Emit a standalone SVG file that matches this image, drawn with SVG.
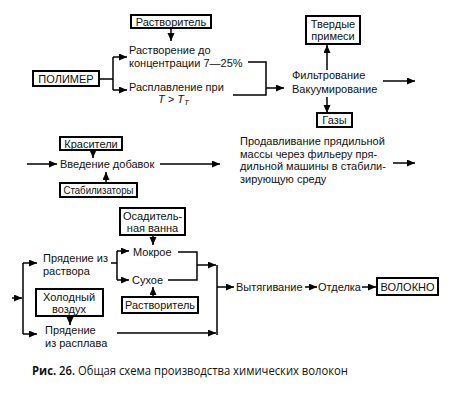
<svg xmlns="http://www.w3.org/2000/svg" width="457" height="401" viewBox="0 0 457 401">
<defs>
<marker id="ah" markerUnits="userSpaceOnUse" markerWidth="9" markerHeight="8" refX="8" refY="3.5" orient="auto">
<path d="M0,0 L8,3.5 L0,7 z" fill="#000"/>
</marker>
<style>
.t{font-family:"Liberation Sans",Arial,sans-serif;font-size:11px;fill:#111}
.c{text-anchor:middle}
.b{fill:none;stroke:#000;stroke-width:2}
.l{fill:none;stroke:#000;stroke-width:1.5}
.a{fill:none;stroke:#000;stroke-width:1.5;marker-end:url(#ah)}
.cap{font-family:"Open Sans","Noto Sans",sans-serif;font-size:12px;fill:#111}
</style>
</defs>
<rect width="457" height="401" fill="#fff"/>

<g id="connectors">
<line class="a" x1="171" y1="28" x2="171" y2="41"/>
<path class="l" d="M99,79 H113 M113,57 V90"/>
<line class="a" x1="113" y1="57" x2="127" y2="57"/>
<line class="a" x1="113" y1="90" x2="127" y2="90"/>
<path class="l" d="M248,62 H266 V95 H233"/>
<line class="a" x1="266" y1="88" x2="284" y2="88"/>
<line class="a" x1="327" y1="70" x2="327" y2="45"/>
<line class="a" x1="327" y1="97" x2="327" y2="113"/>
<line class="a" x1="383" y1="81" x2="415" y2="81"/>

<line class="a" x1="93" y1="150" x2="93" y2="158"/>
<line class="a" x1="27" y1="164" x2="57" y2="164"/>
<line class="a" x1="160" y1="164" x2="220" y2="164"/>
<line class="a" x1="106" y1="183" x2="106" y2="172"/>
<line class="a" x1="393" y1="163" x2="415" y2="163"/>

<line class="a" x1="153" y1="235" x2="153" y2="245"/>
<path class="l" d="M111,263 H117 M117,251 V280"/>
<line class="a" x1="117" y1="251" x2="129" y2="251"/>
<line class="a" x1="117" y1="280" x2="129" y2="280"/>
<path class="l" d="M178,252 H197 V280 H168"/>
<line class="a" x1="197" y1="265" x2="216" y2="265"/>
<line class="l" x1="217" y1="265" x2="217" y2="335"/>
<line class="a" x1="117" y1="333" x2="216" y2="333"/>
<line class="a" x1="217" y1="287" x2="234" y2="287"/>
<line class="a" x1="153" y1="297" x2="153" y2="287"/>
<line class="a" x1="12" y1="298" x2="22" y2="298"/>
<line class="l" x1="23" y1="263" x2="23" y2="334"/>
<line class="a" x1="23" y1="263" x2="37" y2="263"/>
<line class="a" x1="23" y1="334" x2="37" y2="334"/>
<line class="a" x1="70" y1="316" x2="70" y2="325"/>
<line class="a" x1="305" y1="287" x2="317" y2="287"/>
<line class="a" x1="362" y1="287" x2="376" y2="287"/>
</g>

<g id="solvent-top"><rect class="b" x="131" y="15" width="80" height="13"/><text class="t c" x="171" y="25.5">Растворитель</text></g>
<g id="dissolution"><text class="t" x="129" y="54">Растворение до</text><text class="t" x="129" y="67">концентрации 7—25%</text></g>
<g id="polymer"><rect class="b" x="33" y="71" width="66" height="15"/><text class="t c" x="66" y="82.5">ПОЛИМЕР</text></g>
<g id="melting"><text class="t" x="129" y="91">Расплавление при</text><text class="t" x="158" y="103" font-style="italic">T &gt; T<tspan font-size="8" dy="2">Т</tspan></text></g>
<g id="filtration"><text class="t" x="292" y="79">Фильтрование</text><text class="t" x="292" y="93">Вакуумирование</text></g>
<g id="solids"><rect class="b" x="306" y="16" width="54" height="28"/><text class="t c" x="333" y="28">Твердые</text><text class="t c" x="333" y="40">примеси</text></g>
<g id="gases"><rect class="b" x="317" y="113" width="35" height="14"/><text class="t c" x="334.5" y="124">Газы</text></g>

<g id="dyes"><rect class="b" x="60" y="137" width="62" height="13"/><text class="t c" x="91" y="147.5">Красители</text></g>
<g id="additives"><text class="t" x="60" y="168">Введение добавок</text></g>
<g id="stabilizers"><rect class="b" x="60" y="183" width="77" height="14"/><text class="t c" x="98.5" y="194" textLength="70" lengthAdjust="spacingAndGlyphs">Стабилизаторы</text></g>
<g id="extrusion"><text class="t" x="240" y="145">Продавливание прядильной</text><text class="t" x="240" y="157.5">массы через фильеру пря-</text><text class="t" x="240" y="170">дильной машины в стабили-</text><text class="t" x="240" y="182.5">зирующую среду</text></g>

<g id="bath"><rect class="b" x="120" y="208" width="65" height="27"/><text class="t c" x="152.5" y="220">Осадитель-</text><text class="t c" x="152.5" y="231.5">ная ванна</text></g>
<g id="wet"><text class="t" x="133" y="256">Мокрое</text></g>
<g id="dry"><text class="t" x="132" y="284">Сухое</text></g>
<g id="solution-spin"><text class="t" x="43" y="262">Прядение из</text><text class="t" x="43" y="275">раствора</text></g>
<g id="cold-air"><rect class="b" x="36" y="289" width="67" height="27"/><text class="t c" x="69" y="301">Холодный</text><text class="t c" x="69" y="313">воздух</text></g>
<g id="melt-spin"><text class="t" x="45" y="334">Прядение</text><text class="t" x="45" y="347">из расплава</text></g>
<g id="solvent-bottom"><rect class="b" x="122" y="297" width="76" height="16"/><text class="t c" x="160" y="309" textLength="70" lengthAdjust="spacingAndGlyphs">Растворитель</text></g>
<g id="drawing"><text class="t" x="236" y="291">Вытягивание</text></g>
<g id="finishing"><text class="t" x="318" y="291">Отделка</text></g>
<g id="fiber"><rect class="b" x="377" y="278" width="61" height="17"/><text class="t c" x="407.5" y="291">ВОЛОКНО</text></g>

<text class="cap" x="32" y="375" textLength="316" lengthAdjust="spacingAndGlyphs"><tspan font-weight="bold">Рис.</tspan><tspan font-weight="600"> 26.</tspan> Общая схема производства химических волокон</text>
</svg>
